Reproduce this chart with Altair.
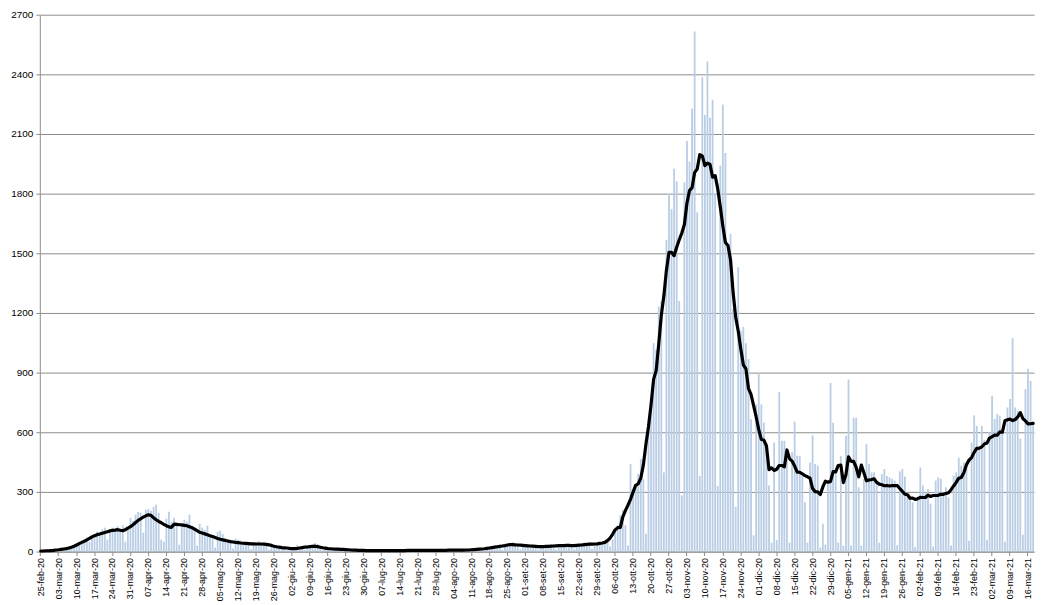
import datetime as dt
import altair as alt
import pandas as pd

# Italian month abbreviations used in the tick labels
MESI = ["gen", "feb", "mar", "apr", "mag", "giu", "lug", "ago", "set", "ott", "nov", "dic"]
START = dt.date(2020, 2, 25)

# Daily values (bars), one per day from 25-feb-20
daily = [
    2, 3, 5, 4, 8, 6, 10,
    10, 14, 12, 20, 25, 18, 30,
    35, 45, 52, 60, 70, 48, 85,
    88, 100, 95, 112, 120, 60, 110,
    120, 110, 128, 115, 132, 50, 125,
    170, 155, 185, 200, 195, 95, 210,
    215, 205, 225, 235, 195, 60, 50,
    165, 200, 150, 170, 130, 35, 130,
    160, 150, 185, 130, 120, 30, 140,
    120, 110, 130, 85, 75, 20, 100,
    105, 88, 70, 60, 55, 15, 65,
    60, 55, 50, 45, 42, 12, 48,
    45, 53, 42, 40, 35, 10, 38,
    30, 28, 25, 22, 20, 6, 20,
    18, 16, 32, 22, 25, 8, 30,
    30, 35, 43, 38, 28, 8, 20,
    20, 18, 15, 12, 14, 4, 10,
    9, 8, 7, 8, 6, 2, 5,
    6, 7, 5, 6, 5, 2, 4,
    5, 6, 4, 7, 5, 2, 5,
    6, 5, 7, 6, 5, 3, 4,
    7, 6, 8, 5, 6, 2, 5,
    6, 8, 7, 6, 7, 3, 6,
    8, 7, 9, 8, 6, 3, 7,
    10, 12, 11, 14, 15, 5, 12,
    18, 22, 25, 28, 30, 10, 25,
    35, 38, 48, 40, 36, 12, 30,
    30, 32, 28, 30, 26, 10, 22,
    28, 30, 26, 32, 28, 10, 25,
    32, 35, 30, 34, 38, 12, 30,
    36, 40, 45, 42, 48, 14, 35,
    40, 45, 48, 52, 55, 25, 60,
    100, 133, 182, 210, 133, 30, 440,
    315, 323, 390, 465, 365, 90, 632,
    782, 1048, 1015, 1232, 1260, 398, 1568,
    1798, 1723, 1925, 1862, 1260, 282, 1857,
    2065, 1960, 2227, 2615, 1707, 380, 2385,
    2195, 2465, 2182, 2272, 1800, 330, 1940,
    2248, 2005, 1540, 1598, 1220, 225, 1430,
    1110, 1130, 1048, 968, 665, 82, 740,
    898, 740, 648, 515, 332, 45, 548,
    58, 803, 557, 557, 465, 45, 500,
    653, 482, 482, 382, 248, 45, 448,
    585, 440, 432, 20, 140, 35, 357,
    848, 648, 398, 45, 480, 30, 582,
    865, 30, 673, 673, 323, 30, 365,
    540, 440, 398, 398, 350, 45, 390,
    415, 380, 373, 365, 357, 32, 403,
    415, 377, 273, 265, 248, 22, 273,
    423, 332, 298, 315, 240, 25, 357,
    373, 365, 298, 323, 273, 30, 382,
    398, 473, 432, 448, 420, 55, 548,
    685, 632, 523, 632, 560, 60, 600,
    783, 667, 692, 683, 617, 50, 725,
    767, 1073, 725, 708, 567, 85, 817,
    920, 858, 642,
]

# Moving-average line, one value per day
media = [
    3, 3, 4, 4, 5, 6, 8,
    9, 11, 13, 15, 18, 22, 27,
    33, 40, 46, 52, 59, 66, 74,
    80, 85, 88, 92, 96, 100, 104,
    107, 108, 110, 107, 105, 110, 118,
    125, 135, 146, 157, 165, 173, 180,
    185, 182, 170, 160, 152, 145, 137,
    130, 124, 122, 138, 137, 135, 134,
    132, 130, 125, 120, 113, 105, 97,
    93, 89, 85, 80, 76, 71, 66,
    62, 59, 56, 53, 50, 48, 46,
    45, 43, 42, 41, 40, 39, 39,
    38, 38, 38, 37, 36, 34, 31,
    27, 24, 22, 20, 19, 18, 16,
    15, 15, 16, 18, 20, 22, 23,
    25, 26, 27, 25, 22, 19, 17,
    15, 14, 13, 12, 12, 11, 11,
    10, 9, 8, 7, 7, 6, 6,
    6, 5, 5, 5, 5, 5, 5,
    5, 5, 5, 5, 5, 5, 5,
    5, 5, 5, 6, 6, 6, 6,
    6, 6, 6, 6, 6, 6, 6,
    6, 6, 6, 6, 6, 7, 7,
    7, 7, 7, 7, 7, 8, 8,
    9, 10, 11, 12, 13, 14, 16,
    18, 20, 22, 24, 26, 28, 30,
    33, 35, 35, 34, 33, 32, 31,
    30, 29, 28, 27, 26, 25, 25,
    25, 26, 26, 27, 28, 29, 30,
    30, 30, 31, 31, 30, 30, 31,
    32, 33, 35, 36, 37, 37, 38,
    39, 41, 43, 46, 55, 68, 87,
    109, 120, 121, 175, 206, 233, 263,
    299, 333, 341, 369, 435, 539, 628,
    738, 866, 910, 1043, 1188, 1285, 1415,
    1505, 1505, 1488, 1530, 1568, 1602, 1645,
    1752, 1816, 1830, 1906, 1924, 1996, 1990,
    1941, 1954, 1947, 1883, 1891, 1825, 1734,
    1637, 1554, 1539, 1467, 1304, 1179, 1109,
    1019, 939, 919, 820, 790, 734, 677,
    613, 565, 560, 532, 412, 421, 408,
    414, 433, 433, 426, 511, 466, 455,
    430, 399, 399, 391, 382, 376, 369,
    317, 301, 300, 287, 325, 354, 349,
    353, 402, 401, 433, 435, 347, 386,
    476, 454, 454, 423, 376, 435, 396,
    356, 360, 362, 366, 348, 339, 336,
    331, 332, 330, 332, 332, 332, 317,
    303, 288, 286, 268, 269, 262, 266,
    273, 272, 272, 284, 277, 282, 282,
    283, 288, 288, 292, 296, 311, 330,
    348, 369, 373, 396, 437, 460, 473,
    499, 519, 520, 527, 541, 546, 571,
    578, 586, 585, 602, 600, 658, 663,
    666, 659, 664, 677, 699, 669, 657,
    642, 643, 645,
]

Y_TICKS = [0, 300, 600, 900, 1200, 1500, 1800, 2100, 2400, 2700]

dates = [START + dt.timedelta(days=i) for i in range(len(daily))]
labels = [f"{d.day:02d}-{MESI[d.month - 1]}-{d.year % 100:02d}" for d in dates]
tick_labels = labels[::7]

df = pd.DataFrame({"giorno": labels, "valore": daily, "media": media})

FONT = "Liberation Sans"
GRID = "#8c8c8c"

x_enc = alt.X(
    "giorno:O",
    sort=None,
    scale=alt.Scale(domain=labels, paddingInner=0.3, paddingOuter=0),
    axis=alt.Axis(
        values=tick_labels,
        labelAngle=-90,
        labelFontSize=9,
        labelFont=FONT,
        labelColor="#000000",
        labelPadding=2,
        tickSize=4,
        tickColor=GRID,
        domainColor=GRID,
        labelOverlap=False,
        title=None,
        grid=False,
    ),
    title=None,
)

y_scale = alt.Scale(domain=[0, 2700], nice=False, zero=True)

bars = alt.Chart(df).mark_bar(color="#b9cde5").encode(
    x=x_enc,
    y=alt.Y(
        "valore:Q",
        scale=y_scale,
        axis=alt.Axis(
            values=Y_TICKS,
            format="d",
            labelFontSize=10,
            labelFont=FONT,
            labelColor="#000000",
            tickSize=4,
            tickColor=GRID,
            domainColor=GRID,
            gridColor=GRID,
            gridWidth=1,
            labelPadding=3,
            title=None,
        ),
        title=None,
    ),
)

line = alt.Chart(df).mark_line(
    color="#000000", strokeWidth=3.2, strokeJoin="round", strokeCap="round"
).encode(
    x=x_enc,
    y=alt.Y("media:Q", scale=y_scale),
)

chart = (
    alt.layer(bars, line)
    .properties(
        width=1000,
        height=540,
        autosize=alt.AutoSizeParams(type="none"),
        padding={"left": 32, "top": 5, "right": 5, "bottom": 50},
        background="#ffffff",
    )
    .configure_view(stroke=None)
)

chart.save("out.html", embed_options={"renderer": "svg", "actions": False})
